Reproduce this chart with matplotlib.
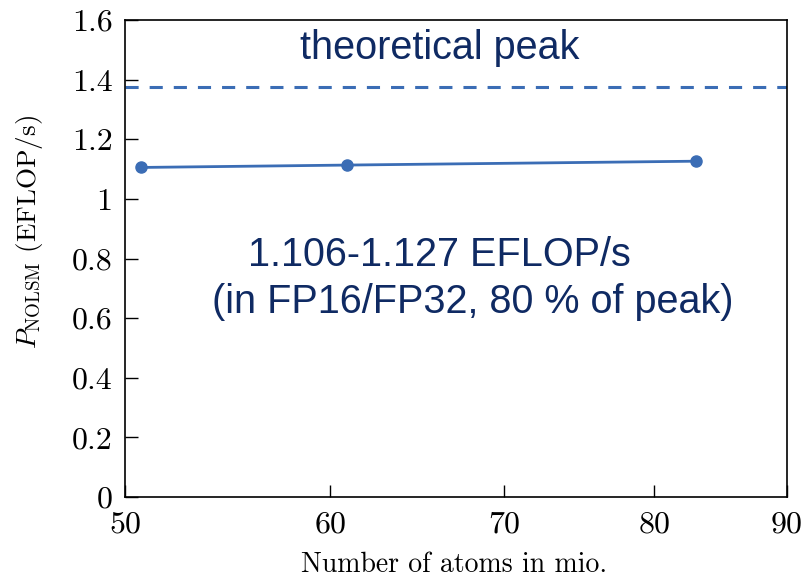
import numpy as np
import matplotlib
matplotlib.use('Agg')
import matplotlib.pyplot as plt
from matplotlib.ticker import FixedLocator, FixedFormatter, NullLocator

plt.rcParams['font.family'] = 'cmr10'
plt.rcParams['mathtext.fontset'] = 'cm'
plt.rcParams['axes.unicode_minus'] = False

# data
atoms = [50.7, 60.9, 83.0]  # mio.
perf = [1.106, 1.114, 1.127]  # EFLOP/s
peak = 1.375

x_ticks = [50, 60, 70, 80, 90]
y_ticks = [0, 0.2, 0.4, 0.6, 0.8, 1, 1.2, 1.4, 1.6]
y_labels = ['0', '0.2', '0.4', '0.6', '0.8', '1', '1.2', '1.4', '1.6']

line_col = '#3b6db5'
txt_col = '#0f2a63'

fig = plt.figure(figsize=(8.04, 5.78), dpi=100)
ax = fig.add_axes([0.1555, 0.140, 0.8235, 0.825])

ax.plot(atoms, perf, color=line_col, lw=2.0, marker='o', ms=8,
        markerfacecolor=line_col, markeredgecolor=line_col)
ax.axhline(peak, color=line_col, lw=2.2, linestyle=(0, (4.3, 3.6)))

ax.set_xscale('log')
ax.set_xlim(50, 90)
ax.set_ylim(0, 1.6)
ax.xaxis.set_major_locator(FixedLocator(x_ticks))
ax.xaxis.set_major_formatter(FixedFormatter([str(t) for t in x_ticks]))
ax.xaxis.set_minor_locator(NullLocator())
ax.set_yticks(y_ticks)
ax.set_yticklabels(y_labels)

ax.tick_params(direction='in', length=9, width=1, labelsize=23, pad=9)
ax.tick_params(axis='x', pad=10)
for s in ax.spines.values():
    s.set_linewidth(1.2)

ax.set_xlabel('Number of atoms in mio.', fontsize=20)
ax.xaxis.set_label_coords(0.497, -0.115)
ax.set_ylabel(r'$P_{\mathrm{NOLSM}}$ (EFLOP/s)', fontsize=19.5)
ax.yaxis.set_label_coords(-0.121, 0.555)

ax.text(0.476, 0.941, 'theoretical peak', transform=ax.transAxes,
        ha='center', va='center', fontsize=28.5, color=txt_col,
        family='Liberation Sans')
ax.text(0.186, 0.507, '1.106-1.127 EFLOP/s', transform=ax.transAxes,
        ha='left', va='center', fontsize=28.5, color=txt_col,
        family='Liberation Sans')
ax.text(0.131, 0.409, '(in FP16/FP32, 80 % of peak)', transform=ax.transAxes,
        ha='left', va='center', fontsize=28.5, color=txt_col,
        family='Liberation Sans')

fig.savefig('out.png', dpi=100)
